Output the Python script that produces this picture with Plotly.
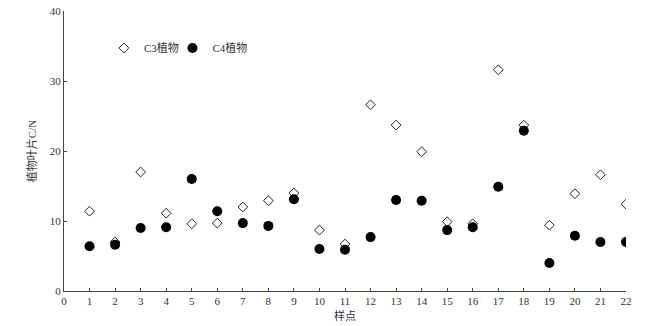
import plotly.graph_objects as go

sites = list(range(1, 23))
c3 = [11.4, 7.0, 17.0, 11.1, 9.6, 9.7, 12.0, 12.9, 14.0, 8.7, 6.7,
      26.6, 23.7, 19.9, 9.9, 9.6, 31.6, 23.7, 9.4, 13.9, 16.6, 12.4]
c4 = [6.4, 6.6, 9.0, 9.1, 16.0, 11.4, 9.7, 9.3, 13.1, 6.0, 5.9,
      7.7, 13.0, 12.9, 8.7, 9.1, 14.9, 22.9, 4.0, 7.9, 7.0, 7.0]
x_ticks = list(range(0, 23))
y_ticks = [0, 10, 20, 30, 40]

font_num = "Liberation Serif, Noto Sans CJK SC"

fig = go.Figure()
fig.add_trace(go.Scatter(
    x=sites, y=c3, mode="markers", name="C3植物", legend="legend",
    marker=dict(symbol="diamond-open", size=7.5, color="#222",
                line=dict(width=1, color="#222"))))
fig.add_trace(go.Scatter(
    x=sites, y=c4, mode="markers", name="C4植物", legend="legend2",
    marker=dict(symbol="circle", size=10, color="#000")))

leg_common = dict(orientation="h", xanchor="left", yanchor="middle",
                  bgcolor="rgba(0,0,0,0)", font=dict(size=11, family=font_num),
                  itemwidth=30)

fig.update_layout(
    width=666, height=326,
    margin=dict(l=64, r=40, t=11, b=35, autoexpand=False),
    paper_bgcolor="white", plot_bgcolor="white",
    font=dict(family=font_num, size=11, color="#333"),
    showlegend=True,
    legend=dict(x=0.071, y=0.868, **leg_common),
    legend2=dict(x=0.193, y=0.868, **leg_common),
    xaxis=dict(range=[0, 22], tickvals=x_ticks, ticks="inside", ticklen=3,
               tickcolor="#444", showline=True, linecolor="#444", linewidth=1,
               showgrid=False, zeroline=False, automargin=False,
               tickfont=dict(size=11, family=font_num, color="#333"),
               title=dict(text="样点", font=dict(size=11, family="Noto Sans CJK SC", color="#333"),
                          standoff=0)),
    yaxis=dict(range=[0, 40], tickvals=y_ticks, ticks="inside", ticklen=3,
               tickcolor="#444", showline=True, linecolor="#444", linewidth=1,
               showgrid=False, zeroline=False, automargin=False,
               tickfont=dict(size=11, family=font_num, color="#333"),
               title=dict(text="植物叶片C/N", font=dict(size=11, family=font_num, color="#333"),
                          standoff=10)),
)

fig.write_html("out.html", config={"displayModeBar": False},
               post_script="document.body.style.margin='0';")
